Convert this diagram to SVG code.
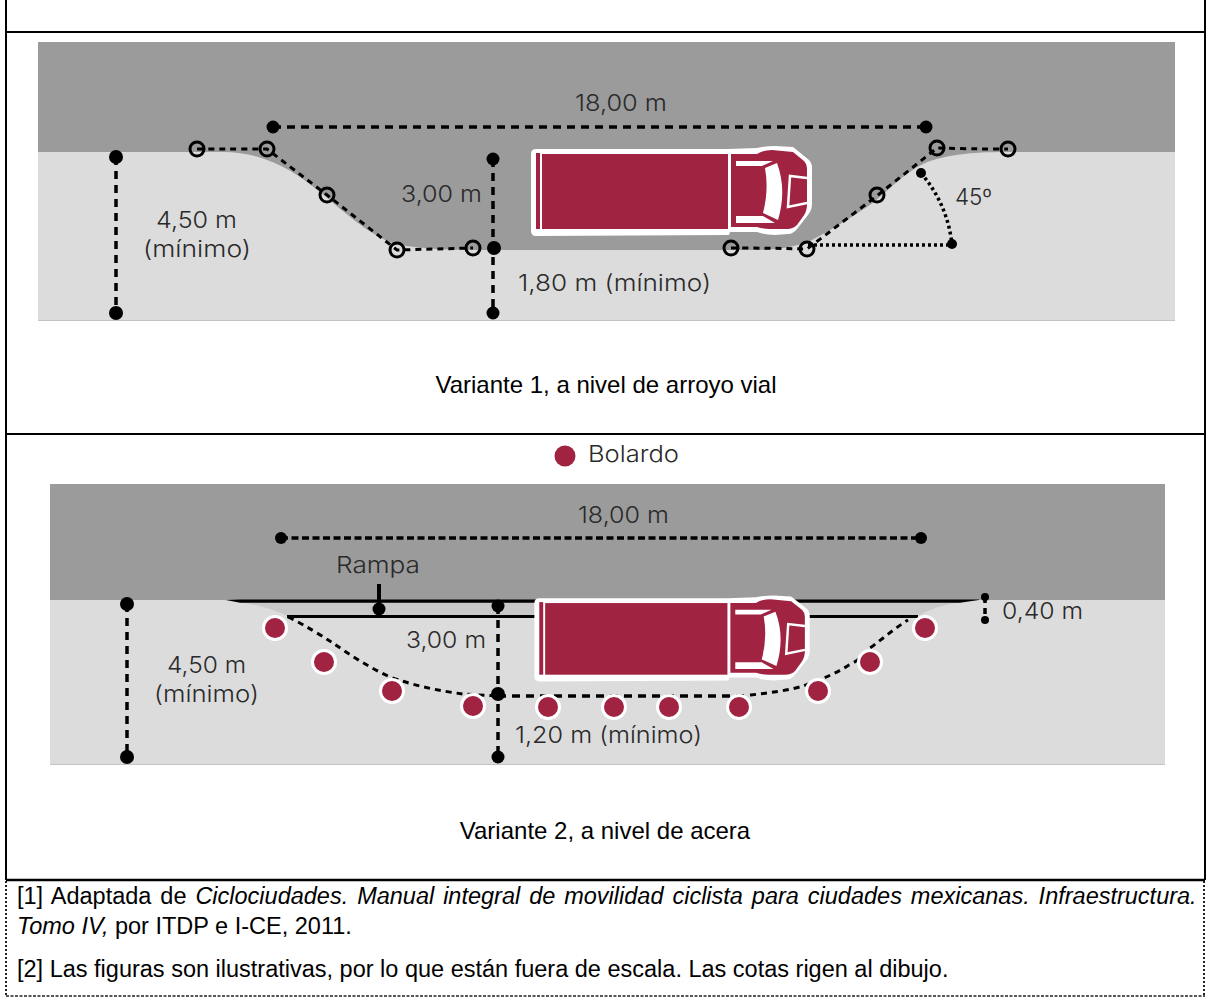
<svg xmlns="http://www.w3.org/2000/svg" xmlns:xlink="http://www.w3.org/1999/xlink" width="1213" height="1003" viewBox="0 0 1213 1003">
<style>
.lab{font-family:"Inter","Open Sans",sans-serif;font-weight:300;font-size:23px;fill:#2a2a2a}
.cap{font-family:"Liberation Sans",Arial,sans-serif;font-size:24px;fill:#000}
.note{font-family:"Liberation Sans",Arial,sans-serif;font-size:23.5px;fill:#000}
.dash{fill:none;stroke:#000;stroke-width:3.5;stroke-dasharray:8 6}
.thin{fill:none;stroke:#000;stroke-width:3;stroke-dasharray:6 5}
.dot{fill:none;stroke:#000;stroke-width:3.5;stroke-dasharray:3 3}
.open{fill:none;stroke:#000;stroke-width:3}
.bol{fill:#a02342;stroke:#fff;stroke-width:3}
.frame{stroke:#000;stroke-width:2;fill:none}
.red{fill:#a02342}
.wh{fill:#fff}
</style>
<defs>
<g id="truck">
<path class="wh" d="M531 154Q531 149 536 149L728 149L757 148Q765 146 775 146L793 147L809 160Q812 163 812 168L812 204Q812 210 808 215L797 229Q793 234 788 234L775 235Q765 235 757 232L730 232L729 235L536 236Q531 236 531 231Z"/>
<rect class="red" x="536" y="153" width="4" height="76"/>
<rect class="red" x="542" y="154" width="186" height="75"/>
<path class="red" d="M731 154L757 154Q763 150 772 150L793 152L804 161Q807 164 807 168L807 205Q807 212 802 218L797 225Q793 229 787 229L770 229Q763 229 757 227L731 227Z"/>
<path class="wh" d="M736 161L773 161L762 166L736 166ZM736 216L763 216L775 223L736 223ZM765 168L777 163Q787 190 778 220L763 213Q769 190 765 168Z"/>
<path d="M807 178L790 176L788 207L807 203" fill="none" stroke="#fff" stroke-width="2.500"/>
</g>
</defs>
<rect width="1213" height="1003" fill="#fff"/>
<g id="frames">
<path class="frame" d="M6 0V880M1205 0V880M6 32H1205M6 434H1205"/>
<path d="M6 880H1205" stroke="#000" stroke-width="2.5"/>
<path d="M6 881V996M1204 881V996" fill="none" stroke="#222" stroke-width="2" stroke-dasharray="2 2"/>
<path d="M6 996H1205" fill="none" stroke="#222" stroke-width="1.500" stroke-dasharray="3 1.5"/>
</g>
<g id="panel1">
<rect x="38" y="42" width="1137" height="279" fill="#dcdcdc"/>
<path d="M38 42H1175V152H1007C970 152 945 155 925 163C900 175 885 195 867 207C850 218 835 228 810 241C795 247 780 249 760 250H490C450 250 420 249 395 244C370 235 350 217 320 192C295 172 265 152 223 152H38Z" fill="#9b9b9c"/>
<path d="M38 320.500H1175" stroke="#c4c4c4" stroke-width="1"/>
</g>
<use id="truck1" xlink:href="#truck" href="#truck"/>
<g id="connectors1">
<path class="dash" d="M273 127H926"/>
<path class="dash" d="M116 157V312"/>
<path class="dash" d="M493 159V312"/>
<path class="thin" d="M197 149Q235 149 267 149L327 195L397 250L473 248"/>
<path class="thin" d="M731 248Q770 248 807 249L878 195L937 148Q970 149 1008 149"/>
<path class="dot" d="M808 245H952"/>
<path class="dot" d="M921 173Q948 205 952 245"/>
</g>
<g id="markers1">
<g fill="#000">
<circle cx="273" cy="127" r="6.500"/><circle cx="926" cy="127" r="6.500"/>
<circle cx="116" cy="157" r="7"/><circle cx="116" cy="313" r="7"/>
<circle cx="493" cy="159" r="6.500"/><circle cx="494" cy="248" r="7"/><circle cx="493" cy="313" r="6.500"/>
<circle cx="921" cy="173" r="5"/><circle cx="952" cy="244" r="5"/>
</g>
<g class="open">
<circle cx="197" cy="149" r="7"/><circle cx="267" cy="149" r="7"/><circle cx="327" cy="195" r="7"/><circle cx="397" cy="250" r="7"/><circle cx="473" cy="248" r="7"/>
<circle cx="731" cy="248" r="7"/><circle cx="807" cy="249" r="7"/><circle cx="877" cy="195" r="7"/><circle cx="937" cy="148" r="7"/><circle cx="1008" cy="149" r="7"/>
</g>
</g>
<g id="labels1">
<text class="lab" x="575" y="111" textLength="92" lengthAdjust="spacingAndGlyphs">18,00 m</text>
<text class="lab" x="156" y="228" textLength="81" lengthAdjust="spacingAndGlyphs">4,50 m</text>
<text class="lab" x="143" y="257" textLength="108" lengthAdjust="spacingAndGlyphs">(mínimo)</text>
<text class="lab" x="401" y="202" textLength="81" lengthAdjust="spacingAndGlyphs">3,00 m</text>
<text class="lab" x="518" y="291" textLength="193" lengthAdjust="spacingAndGlyphs">1,80 m (mínimo)</text>
<text class="lab" x="955" y="205" textLength="37" lengthAdjust="spacingAndGlyphs">45º</text>
<text class="cap" x="606" y="393" text-anchor="middle">Variante 1, a nivel de arroyo vial</text>
</g>
<g id="panel2">
<rect x="50" y="484" width="1115" height="281" fill="#dcdcdc"/>
<rect x="50" y="484" width="1115" height="116" fill="#9b9b9c"/>
<path d="M222 600H979C955 602 935 606 918 616H287C270 607 245 602 222 600Z" fill="#c9c9c9"/>
<path d="M50 764.500H1165" stroke="#c4c4c4" stroke-width="1"/>
</g>
<g id="connectors2">
<path d="M226 600L240 599.500H979L979 600L960 602.800H240Z" fill="#000"/>
<path d="M287 616.500H918" stroke="#000" stroke-width="3"/>
<path d="M379 584V610" stroke="#000" stroke-width="4"/>
</g>
<use id="truck2" xlink:href="#truck" href="#truck" transform="translate(14 456) scale(0.98 0.955)"/>
<g id="connectors2b">
<path class="dash" d="M281 538H921" style="stroke-dasharray:7 3.500"/>
<path class="dash" d="M127 604V757"/>
<path class="dash" d="M498 606V757"/>
<path class="dash" d="M498 696H750"/>
<path class="thin" d="M288 617C305 625 320 635 333 643C350 655 370 668 390 677C415 686 440 691 463 694L498 696"/>
<path class="thin" d="M750 695C770 693 790 690 803 686C820 680 835 674 849 665C860 660 865 653 870 648C885 637 895 628 908 620"/>
<path class="dash" d="M985 597V620" style="stroke-dasharray:6 5"/>
</g>
<g id="markers2">
<g fill="#000">
<circle cx="281" cy="538" r="6"/><circle cx="921" cy="538" r="6"/>
<circle cx="127" cy="604" r="7"/><circle cx="127" cy="757" r="7"/>
<circle cx="379" cy="609" r="6.500"/><circle cx="498" cy="606" r="6.500"/>
<circle cx="498" cy="694" r="7"/><circle cx="498" cy="757" r="6.500"/>
<circle cx="985" cy="597" r="4"/><circle cx="985" cy="620" r="4"/>
</g>
<g class="bol">
<circle cx="275" cy="628" r="11.500"/><circle cx="324" cy="662" r="11.500"/><circle cx="392" cy="691" r="11.500"/><circle cx="473" cy="706" r="11.500"/>
<circle cx="548" cy="707" r="11.500"/><circle cx="614" cy="707" r="11.500"/><circle cx="669" cy="707" r="11.500"/><circle cx="739" cy="707" r="11.500"/>
<circle cx="818" cy="691" r="11.500"/><circle cx="870" cy="662" r="11.500"/><circle cx="925" cy="628" r="11.500"/>
</g>
</g>
<g id="labels2">
<text class="lab" x="578" y="523" textLength="91" lengthAdjust="spacingAndGlyphs">18,00 m</text>
<text class="lab" x="336" y="573" textLength="84" lengthAdjust="spacingAndGlyphs">Rampa</text>
<text class="lab" x="406" y="648" textLength="80" lengthAdjust="spacingAndGlyphs">3,00 m</text>
<text class="lab" x="167" y="673" textLength="79" lengthAdjust="spacingAndGlyphs">4,50 m</text>
<text class="lab" x="154" y="702" textLength="105" lengthAdjust="spacingAndGlyphs">(mínimo)</text>
<text class="lab" x="515" y="743" textLength="187" lengthAdjust="spacingAndGlyphs">1,20 m (mínimo)</text>
<text class="lab" x="1002" y="619" textLength="81" lengthAdjust="spacingAndGlyphs">0,40 m</text>
<text class="lab" x="588" y="462" textLength="91" lengthAdjust="spacingAndGlyphs">Bolardo</text>
<text class="cap" x="605" y="839" text-anchor="middle">Variante 2, a nivel de acera</text>
</g>
<g id="legend"><circle cx="565" cy="456" r="10.500" fill="#a02342"/></g>
<g id="notes">
<text class="note" x="17" y="904" word-spacing="2.4">[1] Adaptada de <tspan font-style="italic">Ciclociudades. Manual integral de movilidad ciclista para ciudades mexicanas. Infraestructura.</tspan></text>
<text class="note" x="17" y="934"><tspan font-style="italic">Tomo IV,</tspan> por ITDP e I-CE, 2011.</text>
<text class="note" x="17" y="977">[2] Las figuras son ilustrativas, por lo que están fuera de escala. Las cotas rigen al dibujo.</text>
</g>
</svg>
